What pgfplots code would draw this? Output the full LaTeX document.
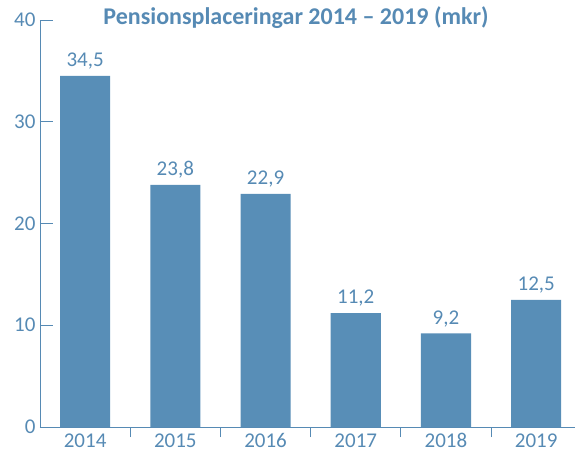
\documentclass[border=0pt]{standalone}
\usepackage{pgfplots}
\pgfplotsset{compat=1.18}
\usepackage{fontspec}
\setmainfont{Carlito}
\definecolor{barblue}{RGB}{88,142,183}
\definecolor{txtblue}{RGB}{86,138,180}
\begin{document}
\begin{tikzpicture}
\useasboundingbox (-40bp,-25bp) rectangle (535bp,427bp);
\begin{axis}[
  at={(0,0)}, anchor=south west,
  scale only axis, width=535bp, height=407bp,
  xmin=-0.5, xmax=5.43, ymin=0, ymax=40,
  axis x line*=bottom, axis y line*=left,
  axis line style={txtblue, line width=1pt},
  xtick={0,1,2,3,4,5},
  xticklabels={2014,2015,2016,2017,2018,2019},
  minor xtick={0.5,1.5,2.5,3.5,4.5},
  major x tick style={draw=none},
  minor x tick style={txtblue, line width=1pt},
  minor tick length=10bp,
  ytick={0,10,20,30,40},
  major y tick style={txtblue, line width=1pt},
  major tick length=13bp,
  tick align=inside,
  tick label style={font=\fontsize{21bp}{25bp}\selectfont, text=txtblue},
  /pgf/number format/assume math mode=true,
  yticklabel style={xshift=-1bp},
  xticklabel style={yshift=10bp},
  ybar, bar width=0.555,
  nodes near coords,
  nodes near coords style={font=\fontsize{21bp}{25bp}\selectfont, text=txtblue, anchor=south, yshift=3bp,
    /pgf/number format/.cd, fixed, precision=1, fixed zerofill, use comma},
  clip=false,
  title={\textbf{Pensionsplaceringar 2014 – 2019 (mkr)}},
  title style={font=\fontsize{24bp}{28bp}\selectfont, text=txtblue, at={(0.4785,1)}, anchor=center, yshift=-4bp},
]
\addplot[fill=barblue, draw=none] coordinates {(0,34.5) (1,23.8) (2,22.9) (3,11.2) (4,9.2) (5,12.5)};
\end{axis}
\end{tikzpicture}
\end{document}
